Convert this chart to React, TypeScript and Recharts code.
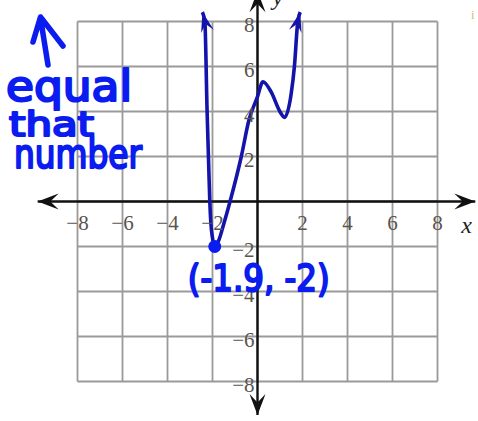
import React from 'react';
import { LineChart, Line, XAxis, YAxis, ReferenceLine, ReferenceDot } from 'recharts';

// Graph of the polynomial (sampled points along the drawn curve)
const CURVE_X = [-2.45, -2.34, -2.24, -2.18, -2.12, -2.07, -2.0, -1.9, -1.72, -1.5, -1.22, -0.72, -0.38, 0, 0.24, 0.6, 1.0, 1.2, 1.5, 1.64, 1.79, 1.9];
const CURVE_Y = [8.42, 8.0, 4.0, 2.0, 0.0, -1.0, -1.62, -2.0, -1.72, -1.0, 0.0, 2.0, 3.62, 4.66, 5.32, 4.88, 3.99, 3.74, 4.81, 6.0, 8.0, 8.42];

// Marked minimum point
const POINT_X = -1.9;
const POINT_Y = -2;

// Grid and tick values
const GRID_VALUES = [-8, -6, -4, -2, 0, 2, 4, 6, 8];
const TICK_VALUES = [-8, -6, -4, -2, 2, 4, 6, 8];

// Axis extents (arrow tips)
const X_AXIS_RANGE = [-9.77, 9.68];
const Y_AXIS_RANGE = [-9.49, 9.35];

const NOTE_LINES = ['equal', 'that', 'number'];

const curveData = CURVE_X.map((x, i) => ({ x, y: CURVE_Y[i] }));

// Layout
const W = 478;
const H = 421;
const UNIT = 22.5;
const ORIGIN_X = 257.5;
const ORIGIN_Y = 201.5;
const X_DOMAIN: [number, number] = [-ORIGIN_X / UNIT, (W - ORIGIN_X) / UNIT];
const Y_DOMAIN: [number, number] = [-(H - ORIGIN_Y) / UNIT, ORIGIN_Y / UNIT];

const CURVE_COLOR = '#1414aa';
const INK = '#0a1cf0';
const GRID_COLOR = '#9a9a9a';
const AXIS_COLOR = '#111111';
const TICK_COLOR = '#5a544e';
const SERIF = '"Liberation Serif", "DejaVu Serif", serif';
const HAND = '"DejaVu Sans", "Noto Sans", sans-serif';

const fmt = (v: number) => (v < 0 ? `\u2212${-v}` : `${v}`);

// stealth-style arrowhead polygon with its tip at (x, y), pointing along angle
const arrowPoints = (x: number, y: number, ang: number, len: number, half: number, notch: number) => {
  const c = Math.cos(ang);
  const s = Math.sin(ang);
  const pt = (u: number, v: number) => `${x + u * c - v * s},${y + u * s + v * c}`;
  return [pt(0, 0), pt(-len, half), pt(-len * notch, 0), pt(-len, -half)].join(' ');
};

const renderCurveEnd = (props: any) => {
  const { cx, cy, index } = props;
  const last = CURVE_X.length - 1;
  if (index !== 0 && index !== last) return <g key={`e${index}`} />;
  const j = index === 0 ? 1 : last - 1;
  const ang = Math.atan2(-(CURVE_Y[index] - CURVE_Y[j]), CURVE_X[index] - CURVE_X[j]);
  return <polygon key={`e${index}`} points={arrowPoints(cx, cy, ang, 20, 6.5, 0.62)} fill={CURVE_COLOR} />;
};

// axis line with arrowheads at both ends and its name near the (x2, y2) end
const axisShape = (name: string, lx: number, ly: number) => (props: any) => {
  const { x1, y1, x2, y2 } = props;
  const ang = Math.atan2(y2 - y1, x2 - x1);
  return (
    <g>
      <line x1={x1} y1={y1} x2={x2} y2={y2} stroke={AXIS_COLOR} strokeWidth={2.4} />
      <polygon points={arrowPoints(x2, y2, ang, 21, 8, 0.6)} fill={AXIS_COLOR} />
      <polygon points={arrowPoints(x1, y1, ang + Math.PI, 21, 8, 0.6)} fill={AXIS_COLOR} />
      <text x={x2 + lx} y={y2 + ly} fontFamily={SERIF} fontStyle="italic" fontSize={24} fill="#222">
        {name}
      </text>
    </g>
  );
};

const handText = {
  fontFamily: HAND,
  fill: INK,
  stroke: INK,
  strokeWidth: 2.2,
  strokeLinejoin: 'round' as const,
  lengthAdjust: 'spacingAndGlyphs',
};

export default function App() {
  return (
    <div style={{ position: 'absolute', left: 0, top: 0, width: W, height: H, background: '#fff' }}>
      <LineChart width={W} height={H} data={curveData} margin={{ top: 0, right: 0, bottom: 0, left: 0 }}>
        <XAxis dataKey="x" type="number" domain={X_DOMAIN} allowDataOverflow hide />
        <YAxis type="number" domain={Y_DOMAIN} allowDataOverflow hide />

        {GRID_VALUES.map((v) => (
          <ReferenceLine
            key={`gv${v}`}
            segment={[{ x: v, y: -8 }, { x: v, y: 8 }]}
            stroke={GRID_COLOR}
            strokeWidth={1.8}
            ifOverflow="visible"
          />
        ))}
        {GRID_VALUES.map((v) => (
          <ReferenceLine
            key={`gh${v}`}
            segment={[{ x: -8, y: v }, { x: 8, y: v }]}
            stroke={GRID_COLOR}
            strokeWidth={1.8}
            ifOverflow="visible"
          />
        ))}

        <ReferenceLine
          segment={[{ x: X_AXIS_RANGE[0], y: 0 }, { x: X_AXIS_RANGE[1], y: 0 }]}
          ifOverflow="visible"
          shape={axisShape('x', -14, 31)}
        />
        <ReferenceLine
          segment={[{ x: 0, y: Y_AXIS_RANGE[0] }, { x: 0, y: Y_AXIS_RANGE[1] }]}
          ifOverflow="visible"
          shape={axisShape('y', 15, 14)}
        />

        {TICK_VALUES.map((v) => (
          <ReferenceDot
            key={`xt${v}`}
            x={v}
            y={0}
            r={0}
            ifOverflow="visible"
            shape={(p: any) => (
              <text x={p.cx} y={p.cy + 28.5} textAnchor="middle" fontFamily={SERIF} fontSize={21} fill={TICK_COLOR}>
                {fmt(v)}
              </text>
            )}
          />
        ))}
        {TICK_VALUES.map((v) => (
          <ReferenceDot
            key={`yt${v}`}
            x={0}
            y={v}
            r={0}
            ifOverflow="visible"
            shape={(p: any) => (
              <text x={p.cx - 3} y={p.cy + 10.5} textAnchor="end" fontFamily={SERIF} fontSize={21} fill={TICK_COLOR}>
                {fmt(v)}
              </text>
            )}
          />
        ))}

        <Line
          dataKey="y"
          type="monotone"
          stroke={CURVE_COLOR}
          strokeWidth={3.6}
          dot={renderCurveEnd}
          activeDot={false}
          isAnimationActive={false}
        />

        <ReferenceDot
          x={POINT_X}
          y={POINT_Y}
          r={6.5}
          ifOverflow="visible"
          shape={(p: any) => (
            <g>
              <circle cx={p.cx} cy={p.cy} r={6.5} fill={INK} />
              <text x={p.cx - 27} y={p.cy + 44} fontSize={38} textLength={142} {...handText}>
                {`(${POINT_X}, ${POINT_Y})`}
              </text>
            </g>
          )}
        />
      </LineChart>

      <svg width={W} height={H} style={{ position: 'absolute', left: 0, top: 0, pointerEvents: 'none' }}>
        <path
          d="M48,65 L40.5,18 M33,42 L40.5,17 L63,46"
          fill="none"
          stroke={INK}
          strokeWidth={5.5}
          strokeLinecap="round"
          strokeLinejoin="round"
        />
        <text x={6} y={101} fontSize={42} textLength={126} {...handText}>
          {NOTE_LINES[0]}
        </text>
        <text x={9} y={136} fontSize={34} textLength={85} {...handText}>
          {NOTE_LINES[1]}
        </text>
        <text x={14} y={168} fontSize={40} textLength={128} {...handText}>
          {NOTE_LINES[2]}
        </text>
        <text x={471} y={19} fontFamily={SERIF} fontSize={13} fill="#d8b88a">
          i
        </text>
      </svg>
    </div>
  );
}
